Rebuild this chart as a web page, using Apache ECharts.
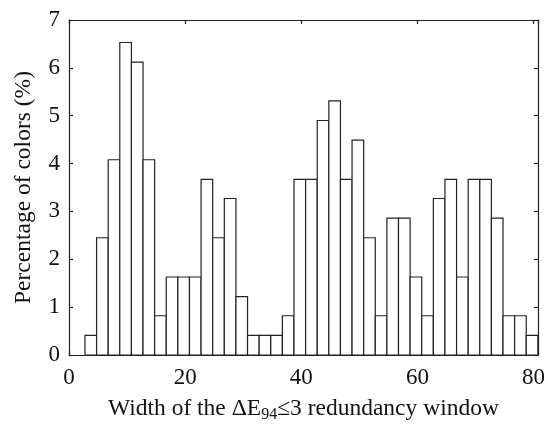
<!DOCTYPE html>
<html>
<head>
<meta charset="utf-8">
<script src="https://cdn.jsdelivr.net/npm/echarts@6/dist/echarts.min.js"></script>
<style>
  html, body { margin: 0; padding: 0; background: #fff; }
  #chart { width: 548px; height: 428px; }
</style>
</head>
<body>
<div id="chart"></div>
<script>
// bin centres (width 2) and percentage of colours in each bin
const binCenters = [3.75, 5.75, 7.75, 9.75, 11.75, 13.75, 15.75, 17.75, 19.75, 21.75,
  23.75, 25.75, 27.75, 29.75, 31.75, 33.75, 35.75, 37.75, 39.75, 41.75,
  43.75, 45.75, 47.75, 49.75, 51.75, 53.75, 55.75, 57.75, 59.75, 61.75,
  63.75, 65.75, 67.75, 69.75, 71.75, 73.75, 75.75, 77.75, 79.75];
const percentages = [0.41, 2.45, 4.08, 6.53, 6.12, 4.08, 0.82, 1.63, 1.63, 1.63,
  3.67, 2.45, 3.27, 1.22, 0.41, 0.41, 0.41, 0.82, 3.67, 3.67,
  4.90, 5.31, 3.67, 4.49, 2.45, 0.82, 2.86, 2.86, 1.63, 0.82,
  3.27, 3.67, 1.63, 3.67, 3.67, 2.86, 0.82, 0.82, 0.41];
const binWidth = 2;
const xTicks = [0, 20, 40, 60, 80];
const yTicks = [0, 1, 2, 3, 4, 5, 6, 7];

const font = "Liberation Serif";
const ink = "#222";

const chart = echarts.init(document.getElementById("chart"));

const axisLine = { show: true, onZero: false, lineStyle: { color: ink, width: 1.2 } };
const tick = { show: true, inside: true, length: 4, lineStyle: { color: ink, width: 1.2 } };

const option = {
  animation: false,
  grid: { left: 69, right: 9, top: 20, bottom: 72 },
  xAxis: [
    {
      type: "value",
      min: 0,
      max: 80.75,
      interval: 20,
      position: "bottom",
      axisLine: axisLine,
      axisTick: tick,
      splitLine: { show: false },
      axisLabel: {
        color: "#111",
        fontFamily: font,
        fontSize: 23,
        margin: 11,
        formatter: (v) => (xTicks.includes(v) ? String(v) : ""),
      },
      name: "Width of the \u0394E{sub|94}\u22643 redundancy window",
      nameLocation: "middle",
      nameGap: 40,
      nameTextStyle: {
        color: "#111",
        fontFamily: font,
        fontSize: 23.5,
        rich: {
          sub: { fontFamily: font, fontSize: 16, color: "#111", verticalAlign: "bottom", padding: [12, 0, 0, 0] },
        },
      },
    },
    {
      type: "value",
      min: 0,
      max: 80.75,
      interval: 20,
      position: "top",
      axisLine: axisLine,
      axisTick: tick,
      axisLabel: { show: false },
      splitLine: { show: false },
    },
  ],
  yAxis: [
    {
      type: "value",
      min: 0,
      max: 7,
      interval: 1,
      position: "left",
      axisLine: axisLine,
      axisTick: tick,
      splitLine: { show: false },
      axisLabel: {
        color: "#111",
        fontFamily: font,
        fontSize: 23,
        margin: 9,
        formatter: (v) => (yTicks.includes(v) ? String(v) : ""),
      },
      name: "Percentage of colors (%)",
      nameLocation: "middle",
      nameGap: 33,
      nameTextStyle: { color: "#111", fontFamily: font, fontSize: 23.5 },
    },
    {
      type: "value",
      min: 0,
      max: 7,
      interval: 1,
      position: "right",
      axisLine: axisLine,
      axisTick: tick,
      axisLabel: { show: false },
      splitLine: { show: false },
    },
  ],
  series: [
    {
      type: "custom",
      xAxisIndex: 0,
      yAxisIndex: 0,
      data: binCenters.map((c, i) => [c, percentages[i]]),
      renderItem: (params, api) => {
        const c = api.value(0);
        const v = api.value(1);
        const p0 = api.coord([c - binWidth / 2, 0]);
        const p1 = api.coord([c + binWidth / 2, v]);
        return {
          type: "rect",
          shape: { x: p0[0], y: p1[1], width: p1[0] - p0[0], height: p0[1] - p1[1] },
          style: { fill: "#fff", stroke: ink, lineWidth: 1.2 },
        };
      },
    },
  ],
};

chart.setOption(option);
</script>
</body>
</html>
